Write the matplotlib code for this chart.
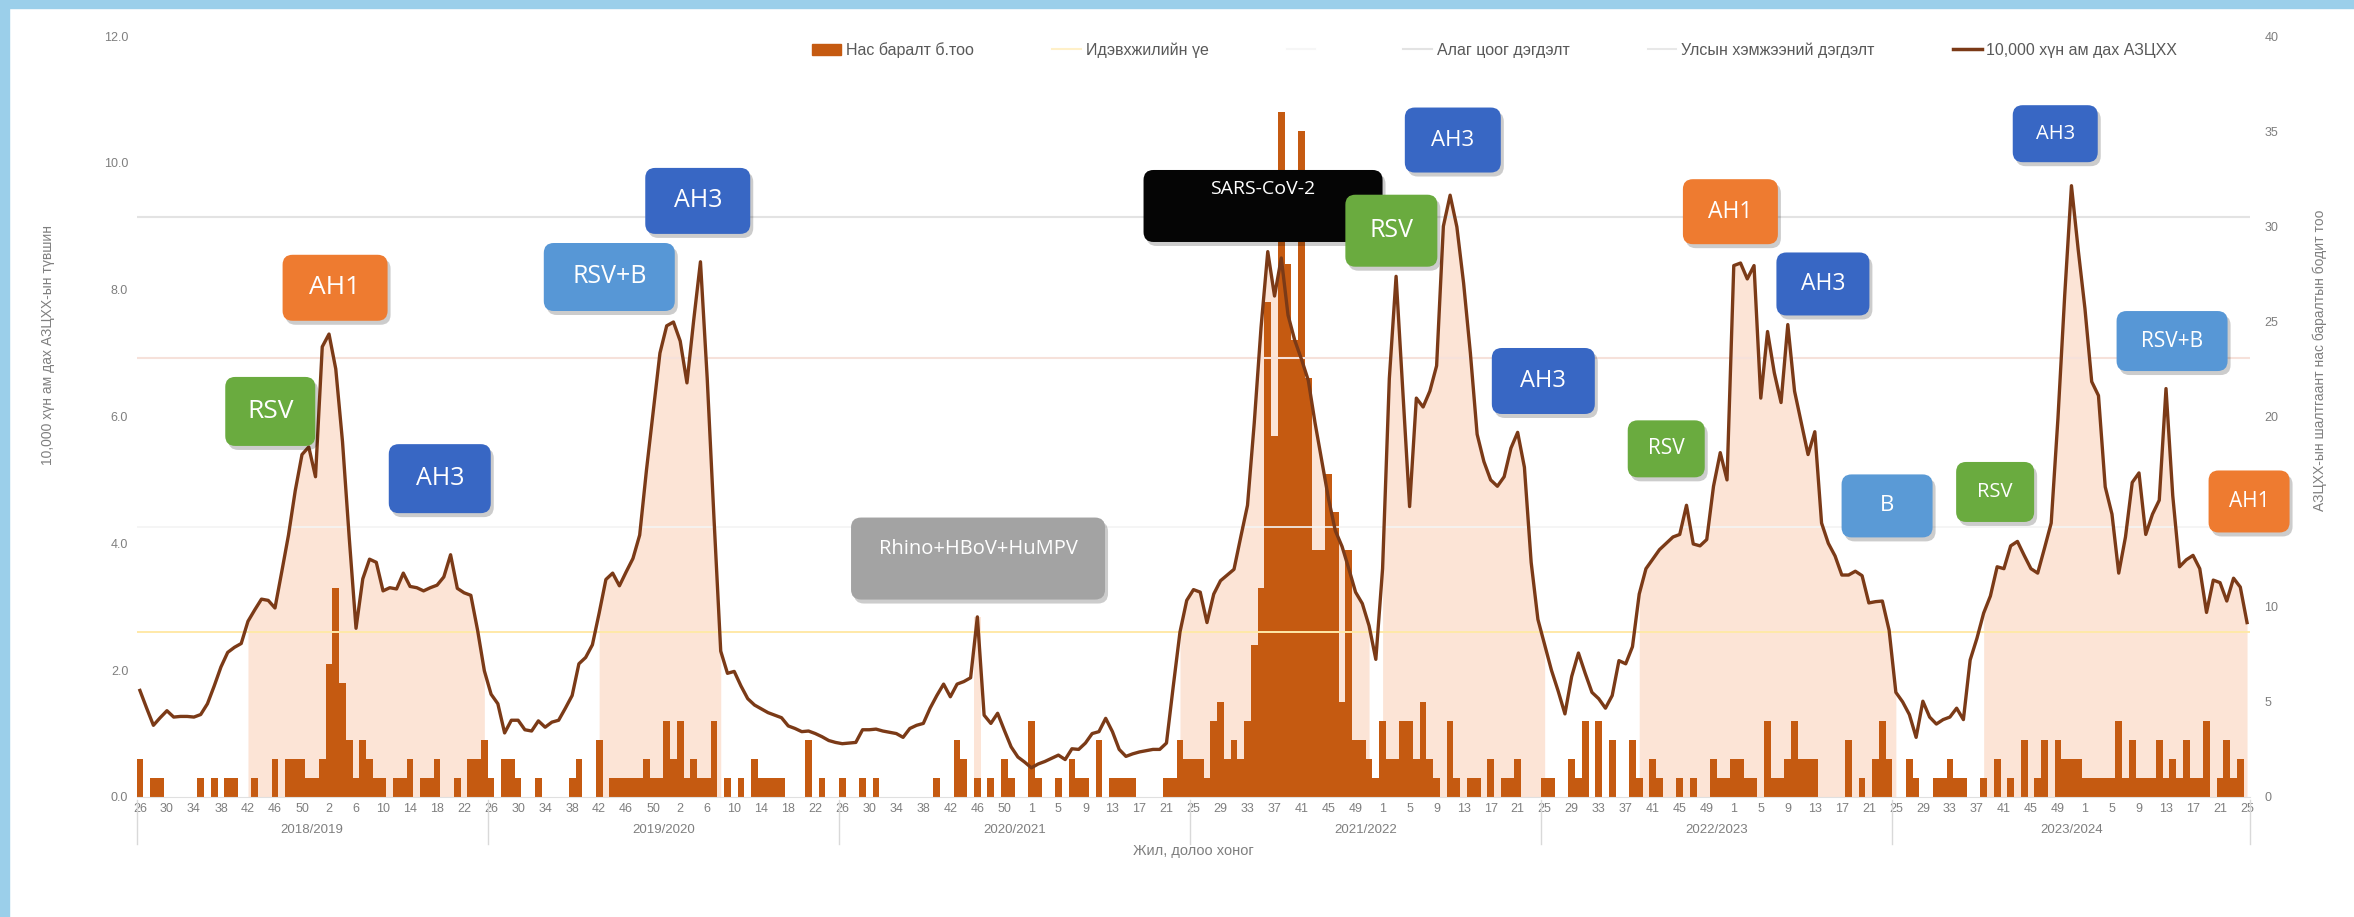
import numpy as np
import matplotlib
matplotlib.use("Agg")
import matplotlib.pyplot as plt
from matplotlib.patches import FancyBboxPatch, Patch, Rectangle
from matplotlib.lines import Line2D
from matplotlib.transforms import IdentityTransform, blended_transform_factory

plt.rcParams['font.family'] = ['Liberation Sans', 'DejaVu Sans']

# weeks shown: 2018 w26 ... 2024 w25
years = [2018, 2019, 2020, 2021, 2022, 2023, 2024]
first_week = [26, 1, 1, 1, 1, 1, 1]
last_week = [52, 52, 53, 52, 52, 52, 25]
seasons = ["2018/2019", "2019/2020", "2020/2021", "2021/2022", "2022/2023", "2023/2024"]
season_len = 52

# 10 000 хүн ам дах АЗЦХХ (left axis)
incidence = np.array([
    # 2018/2019
    1.68, 1.40, 1.13, 1.25, 1.36, 1.26, 1.27, 1.27, 1.26, 1.30,
    1.47, 1.75, 2.05, 2.28, 2.36, 2.42, 2.77, 2.95, 3.12, 3.10,
    2.98, 3.55, 4.13, 4.83, 5.40, 5.52, 5.05, 7.10, 7.30, 6.75,
    5.60, 4.08, 2.66, 3.44, 3.75, 3.70, 3.25, 3.30, 3.28, 3.53,
    3.32, 3.30, 3.25, 3.30, 3.34, 3.47, 3.82, 3.29, 3.22, 3.18,
    2.63, 1.99,
    # 2019/2020
    1.62, 1.47, 1.01, 1.21, 1.21, 1.06, 1.04, 1.20, 1.10, 1.18,
    1.21, 1.40, 1.60, 2.10, 2.20, 2.40, 2.90, 3.43, 3.53, 3.33,
    3.55, 3.76, 4.13, 5.15, 6.07, 7.00, 7.43, 7.49, 7.19, 6.53,
    7.52, 8.44, 6.60, 4.40, 2.30, 1.95, 1.98, 1.75, 1.55, 1.45,
    1.39, 1.33, 1.29, 1.25, 1.12, 1.08, 1.03, 1.04, 1.00, 0.95,
    0.89, 0.86,
    # 2020/2021
    0.84, 0.85, 0.86, 1.06, 1.06, 1.07, 1.04, 1.02, 1.00, 0.94,
    1.08, 1.13, 1.16, 1.40, 1.60, 1.78, 1.58, 1.78, 1.82, 1.88,
    2.84, 1.29, 1.16, 1.32, 1.05, 0.79, 0.63, 0.55, 0.46, 0.52,
    0.56, 0.61, 0.66, 0.59, 0.76, 0.75, 0.85, 1.00, 1.03, 1.24,
    1.03, 0.75, 0.64, 0.68, 0.71, 0.73, 0.75, 0.75, 0.85, 1.74,
    2.60, 3.10,
    # 2021/2022
    3.27, 3.23, 2.75, 3.20, 3.41, 3.50, 3.59, 4.10, 4.60, 5.90,
    7.40, 8.60, 7.90, 8.50, 7.60, 7.20, 6.90, 6.57, 5.90, 5.30,
    4.70, 4.20, 3.95, 3.60, 3.23, 3.05, 2.70, 2.17, 3.60, 6.60,
    8.21, 6.40, 4.58, 6.29, 6.15, 6.40, 6.80, 9.00, 9.49, 8.99,
    8.10, 7.00, 5.72, 5.29, 5.00, 4.90, 5.05, 5.50, 5.75, 5.20,
    3.70, 2.80,
    # 2022/2023
    2.40, 2.00, 1.67, 1.31, 1.90, 2.27, 1.95, 1.65, 1.55, 1.40,
    1.60, 2.15, 2.10, 2.37, 3.20, 3.60, 3.75, 3.90, 4.00, 4.10,
    4.14, 4.60, 3.99, 3.96, 4.06, 4.90, 5.43, 5.00, 8.38, 8.42,
    8.17, 8.38, 6.29, 7.34, 6.69, 6.22, 7.45, 6.40, 5.90, 5.40,
    5.76, 4.32, 4.00, 3.80, 3.50, 3.50, 3.56, 3.49, 3.06, 3.08,
    3.09, 2.63,
    # 2023/2024
    1.65, 1.50, 1.30, 0.94, 1.51, 1.26, 1.15, 1.22, 1.26, 1.40,
    1.22, 2.16, 2.50, 2.90, 3.17, 3.63, 3.60, 3.96, 4.03, 3.81,
    3.60, 3.53, 3.92, 4.32, 5.97, 7.91, 9.64, 8.63, 7.70, 6.55,
    6.33, 4.89, 4.46, 3.53, 4.10, 4.96, 5.11, 4.14, 4.46, 4.68,
    6.44, 4.75, 3.63, 3.74, 3.81, 3.60, 2.91, 3.42, 3.38, 3.09,
    3.45, 3.31, 2.75,
])

# Нас баралт б.тоо (right axis)
deaths = np.array([
    2, 0, 1, 1, 0, 0, 0, 0, 0, 1, 0, 1, 0, 1, 1, 0, 0, 1, 0, 0,
    2, 0, 2, 2, 2, 1, 1, 2, 7, 11, 6, 3, 1, 3, 2, 1, 1, 0, 1, 1,
    2, 0, 1, 1, 2, 0, 0, 1, 0, 2, 2, 3,
    1, 0, 2, 2, 1, 0, 0, 1, 0, 0, 0, 0, 1, 2, 0, 0, 3, 0, 1, 1,
    1, 1, 1, 2, 1, 1, 4, 2, 4, 1, 2, 1, 1, 4, 0, 1, 0, 1, 0, 2,
    1, 1, 1, 1, 0, 0, 0, 3, 0, 1, 0, 0,
    1, 0, 0, 1, 0, 1, 0, 0, 0, 0, 0, 0, 0, 0, 1, 0, 0, 3, 2, 0,
    1, 0, 1, 0, 2, 1, 0, 0, 4, 1, 0, 0, 1, 0, 2, 1, 1, 0, 3, 0,
    1, 1, 1, 1, 0, 0, 0, 0, 1, 1, 3, 2,
    2, 2, 1, 4, 5, 2, 3, 2, 4, 8, 11, 26, 19, 36, 28, 24, 35, 22, 13, 13,
    17, 15, 5, 13, 3, 3, 2, 1, 4, 2, 2, 4, 4, 2, 5, 2, 1, 0, 4, 1,
    0, 1, 1, 0, 2, 0, 1, 1, 2, 0, 0, 0,
    1, 1, 0, 0, 2, 1, 4, 0, 4, 0, 3, 0, 0, 3, 1, 0, 2, 1, 0, 0,
    1, 0, 1, 0, 0, 2, 1, 1, 2, 2, 1, 1, 0, 4, 1, 1, 2, 4, 2, 2,
    2, 0, 0, 0, 0, 3, 0, 1, 0, 2, 4, 2,
    0, 0, 2, 1, 0, 0, 1, 1, 2, 1, 1, 0, 0, 1, 0, 2, 0, 1, 0, 3,
    0, 1, 3, 0, 3, 2, 2, 2, 1, 1, 1, 1, 1, 4, 1, 3, 1, 1, 1, 3,
    1, 2, 1, 3, 1, 1, 4, 0, 1, 3, 1, 2, 0,
])

# Идэвхжилийн үе: first and last week index of each activity period
active_periods = [(16, 51), (68, 86), (124, 124), (154, 182), (184, 208), (222, 260), (273, 312)]

# threshold levels (left axis)
thr_activity = 2.6
thr_low = 4.25
thr_sporadic = 6.93
thr_national = 9.14

# right axis ticks (15 sits under the AH1 box in the original)
right_ticks = [0, 5, 10, 15, 20, 25, 30, 35, 40]
right_ticklabels = ["0", "5", "10", "", "20", "25", "30", "35", "40"]

# virus labels: text, week index, level
virus_labels = [
    ("RSV", 19.3, 6.08), ("AH1", 28.9, 8.03), ("AH3", 44.4, 5.02),
    ("RSV+B", 69.5, 8.20), ("AH3", 82.6, 9.40),
    ("Rhino+HBoV+HuMPV", 124.1, 3.76),
    ("SARS-CoV-2", 166.3, 9.32), ("RSV", 185.3, 8.93), ("AH3", 194.4, 10.36), ("AH3", 207.8, 6.56),
    ("RSV", 226.0, 5.49), ("AH1", 235.5, 9.23), ("AH3", 249.2, 8.09), ("B", 258.7, 4.59),
    ("RSV", 274.7, 4.81), ("AH3", 283.6, 10.46), ("RSV+B", 300.9, 7.19), ("AH1", 312.3, 4.66),
]
# box size (px), font size, text offset (px)
label_style = [
    (90, 69, 19, 0), (105, 66, 19, 0), (102, 69, 18, 0),
    (131, 68, 18, 0), (105, 66, 18, 0),
    (254, 82, 14.5, 10),
    (239, 72, 14, 17), (92, 72, 18, 0), (96, 65, 16, 0), (103, 66, 17, 0),
    (77, 57, 15, 0), (95, 65, 16.5, 0), (93, 63, 16.5, 0), (91, 63, 16, 0),
    (78, 60, 14.5, 0), (85, 57, 14.5, 0), (111, 60, 15, 0), (81, 62, 15, 0),
]

BAR = "#C55A11"
LINE = "#7B3A17"
FILL = "#FCE4D6"
GREY = "#7F7F7F"
box_colors = {"RSV": "#6AAB3F", "AH1": "#EE7B30", "AH3": "#3867C4", "RSV+B": "#5797D6",
              "B": "#5A9AD6", "SARS-CoV-2": "#050505", "Rhino+HBoV+HuMPV": "#A3A3A3"}

weeks = []
for f, l in zip(first_week, last_week):
    weeks.extend(range(f, l + 1))
x = np.arange(len(incidence))

W, H = 2354, 917
fig = plt.figure(figsize=(W / 100, H / 100), dpi=100)
fig.patch.set_facecolor("white")
ax = fig.add_axes([0.058, 0.1309, 0.898, 0.8298])
ax2 = ax.twinx()
ax.set_zorder(ax2.get_zorder() + 1)
ax.patch.set_visible(False)

# activity periods as area under the incidence line
for s, e in active_periods:
    if s == e:
        xs = np.array([s - 0.5, s + 0.5])
        ys = np.array([incidence[s], incidence[s]])
    else:
        xs = x[s:e + 1]
        ys = incidence[s:e + 1]
    ax2.fill_between(xs, 0, ys, color=FILL, lw=0, zorder=1, transform=ax.transData)

ax2.bar(x, deaths, width=1.0, color=BAR, lw=0, zorder=2)

ax.axhline(thr_activity, color="#FFE9A8", lw=1.4, zorder=2)
ax.axhline(thr_low, color="#F4F4F4", lw=1.2, zorder=2)
ax.axhline(thr_sporadic, color="#F6E1DA", lw=1.5, zorder=2)
ax.axhline(thr_national, color="#E3E3E3", lw=1.5, zorder=2)
ax.plot(x, incidence, color=LINE, lw=2.4, zorder=5, solid_joinstyle="round")

ax.set_xlim(-0.5, len(x) - 0.5)
ax.set_ylim(0, 12)
ax2.set_ylim(0, 40)

ax.set_yticks(np.arange(0, 12.1, 2))
ax.set_yticklabels([f"{v:.1f}" for v in np.arange(0, 12.1, 2)])
ax2.set_yticks(right_ticks)
ax2.set_yticklabels(right_ticklabels)
ax.set_xticks(x[::4])
ax.set_xticklabels([str(w) for w in weeks[::4]])
ax.tick_params(axis="x", length=0, pad=4, labelsize=9, colors=GREY)
ax.tick_params(axis="y", length=0, pad=6, labelsize=9, colors=GREY)
ax2.tick_params(axis="y", length=0, pad=10, labelsize=9, colors=GREY)
for a in (ax, ax2):
    for sp in a.spines.values():
        sp.set_visible(False)
ax.spines["bottom"].set_visible(True)
ax.spines["bottom"].set_color("#E0E0E0")

# season groups under the week numbers
trans = blended_transform_factory(ax.transData, ax.transAxes)
bounds = [k * season_len - 0.5 for k in range(len(seasons))] + [len(x) - 0.5]
for b in bounds:
    ax.plot([b, b], [-0.004, -0.062], transform=trans, clip_on=False, color="#D9D9D9", lw=1)
for k, name in enumerate(seasons):
    ax.text((bounds[k] + bounds[k + 1]) / 2, -0.043, name, transform=trans,
            ha="center", va="center", fontsize=9.5, color=GREY)

fig.text(1193 / W, 1 - 851 / H, "Жил, долоо хоног", ha="center", va="center", fontsize=10.5, color=GREY)
fig.text(48 / W, 1 - 345 / H, "10,000 хүн ам дах АЗЦХХ-ын түвшин", rotation=90,
         ha="center", va="center", fontsize=10, color=GREY)
fig.text(2320 / W, 1 - 360 / H, "АЗЦХХ-ын шалтгаант нас баралтын бодит тоо", rotation=90,
         ha="center", va="center", fontsize=10, color=GREY)

handles = [
    Patch(color=BAR, label="Нас баралт б.тоо"),
    Line2D([], [], color="#FFF0C8", lw=1.5, label="Идэвхжилийн үе"),
    Line2D([], [], color="#F6F6F6", lw=1.5, label=" "),
    Line2D([], [], color="#E3E3E3", lw=1.5, label="Алаг цоог дэгдэлт"),
    Line2D([], [], color="#E8E8E8", lw=1.5, label="Улсын хэмжээний дэгдэлт"),
    Line2D([], [], color=LINE, lw=2.5, label="10,000 хүн ам дах АЗЦХХ"),
]
fig.legend(handles=handles, ncol=6, loc="center", bbox_to_anchor=(0.635, 1 - 50 / H),
           frameon=False, fontsize=11.5, labelcolor="#595959", handlelength=1.8,
           handletextpad=0.3, columnspacing=4.9)

# virus boxes
for (name, bx, by), (bw, bh, fs, dy) in zip(virus_labels, label_style):
    px, py = ax.transData.transform((bx, by))
    shadow = FancyBboxPatch((px - bw / 2 + 3, py - bh / 2 - 4), bw, bh,
                            boxstyle="round,pad=0,rounding_size=10", fc="black", ec="none",
                            alpha=0.2, transform=IdentityTransform(), zorder=9)
    box = FancyBboxPatch((px - bw / 2, py - bh / 2), bw, bh,
                         boxstyle="round,pad=0,rounding_size=10", fc=box_colors[name], ec="none",
                         transform=IdentityTransform(), zorder=10)
    fig.add_artist(shadow)
    fig.add_artist(box)
    fig.text(px, py + dy, name, transform=IdentityTransform(), ha="center", va="center",
             color="white", fontsize=fs, family=["Open Sans", "DejaVu Sans"], zorder=11)

# slide border
fig.add_artist(Rectangle((0, 0), 9 / W, 1, transform=fig.transFigure, color="#9BCFEA", zorder=20))
fig.add_artist(Rectangle((0, 1 - 8 / H), 1, 8 / H, transform=fig.transFigure, color="#9BCFEA", zorder=20))

fig.savefig("out.png", dpi=100)
